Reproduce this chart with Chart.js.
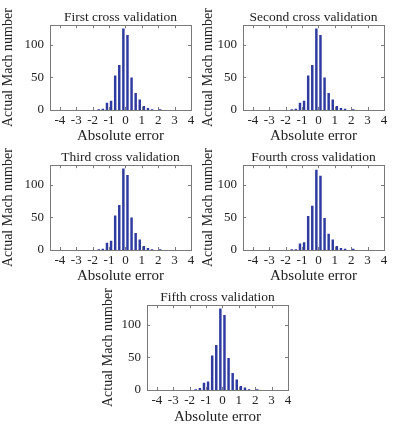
<!DOCTYPE html>
<html>
<head>
<meta charset="utf-8">
<script src="https://cdn.jsdelivr.net/npm/chart.js@4.4.1/dist/chart.umd.min.js"></script>
<style>
  body { margin: 0; background: #fff; overflow: hidden; }
  #wrap { position: relative; width: 399px; height: 424px; }
  .cell { position: absolute; }
</style>
</head>
<body>
<div id="wrap"></div>
<script>
// histogram bin centres (absolute error) and counts per fold
var binCenters = [-1.625, -1.375, -1.125, -0.875, -0.625, -0.375, -0.125, 0.125,
                  0.375, 0.625, 0.875, 1.125, 1.375, 1.625, 1.875, 2.125];
var fold1 = [1, 2, 11, 14, 53, 69, 125, 115, 50, 26, 16, 6, 3, 1, 0, 1];
var fold2 = [1, 2, 11, 14, 53, 69, 125, 115, 50, 26, 16, 6, 3, 2, 0, 1];
var fold3 = [1, 2, 11, 14, 53, 69, 125, 115, 50, 26, 16, 6, 3, 1, 0, 1];
var fold4 = [1, 1, 10, 12, 52, 68, 123, 114, 49, 25, 16, 6, 3, 2, 0, 2];
var fold5 = [1, 3, 11, 13, 53, 69, 125, 115, 49, 26, 16, 6, 4, 1, 0, 1];
var titles = ["First cross validation", "Second cross validation", "Third cross validation",
              "Fourth cross validation", "Fifth cross validation"];
var xTicks = [-4, -3, -2, -1, 0, 1, 2, 3, 4];
var yTicks = [0, 50, 100];

var folds = [fold1, fold2, fold3, fold4, fold5];

// box + inward ticks, matlab style
var boxTicks = {
  id: "boxTicks",
  afterDraw: function (chart) {
    var c = chart.ctx, a = chart.chartArea;
    var xs = chart.scales.x, ys = chart.scales.y;
    c.save();
    c.strokeStyle = "#7a7a7a";
    c.lineWidth = 1;
    c.strokeRect(Math.round(a.left) + 0.5, Math.round(a.top) + 0.5,
                 Math.round(a.right - a.left), Math.round(a.bottom - a.top));
    c.beginPath();
    xTicks.forEach(function (v) {
      var px = Math.round(xs.getPixelForValue(v)) + 0.5;
      c.moveTo(px, a.bottom); c.lineTo(px, a.bottom - 3);
      c.moveTo(px, a.top); c.lineTo(px, a.top + 3);
    });
    yTicks.forEach(function (v) {
      var py = Math.round(ys.getPixelForValue(v)) + 0.5;
      c.moveTo(a.left, py); c.lineTo(a.left + 3, py);
      c.moveTo(a.right, py); c.lineTo(a.right - 3, py);
    });
    c.stroke();
    c.restore();
  }
};

// cell: div box and where the plot area should sit inside it
var cells = [
  { left: 0,   top: 0,   w: 200, h: 145, yw: 50, pr: 9,  xh: 35, xpad: 0 },
  { left: 200, top: 0,   w: 199, h: 145, yw: 43, pr: 15, xh: 35, xpad: 0 },
  { left: 0,   top: 140, w: 200, h: 145, yw: 50, pr: 9,  xh: 35, xpad: 0 },
  { left: 200, top: 140, w: 199, h: 145, yw: 43, pr: 15, xh: 35, xpad: 0 },
  { left: 100, top: 280, w: 199, h: 144, yw: 47, pr: 11, xh: 34, xpad: -2.5 }
];

var serif = "'Liberation Serif', 'Times New Roman', serif";

cells.forEach(function (cell, i) {
  var div = document.createElement("div");
  div.className = "cell";
  div.style.left = cell.left + "px";
  div.style.top = cell.top + "px";
  div.style.width = cell.w + "px";
  div.style.height = cell.h + "px";
  var cv = document.createElement("canvas");
  div.appendChild(cv);
  document.getElementById("wrap").appendChild(div);

  var pts = binCenters.map(function (x, k) { return { x: x, y: folds[i][k] }; });

  new Chart(cv, {
    type: "bar",
    data: {
      datasets: [{
        data: pts,
        backgroundColor: "#2e3a9f",
        borderWidth: 0,
        barPercentage: 0.6,
        categoryPercentage: 1
      }]
    },
    options: {
      responsive: true,
      maintainAspectRatio: false,
      animation: false,
      layout: { padding: { left: 0, right: cell.pr, top: 0, bottom: 0 } },
      plugins: {
        legend: { display: false },
        tooltip: { enabled: false },
        title: {
          display: true,
          text: titles[i],
          fullSize: false,
          color: "#222",
          font: { family: serif, size: 13.5, weight: "normal" },
          padding: { top: 9, bottom: 0 }
        }
      },
      scales: {
        x: {
          type: "linear",
          min: -4.6,
          max: 4,
          offset: false,
          grid: { display: false, drawTicks: false },
          border: { display: false },
          ticks: { stepSize: 1, color: "#222", padding: 3, maxRotation: 0,
                   font: { family: serif, size: 13 } },
          title: { display: true, text: "Absolute error", color: "#222",
                   font: { family: serif, size: 15 },
                   padding: { top: 0, bottom: cell.xpad } },
          afterBuildTicks: function (s) {
            s.ticks = xTicks.map(function (v) { return { value: v }; });
          },
          afterFit: function (s) { s.height = cell.xh; }
        },
        y: {
          min: 0,
          max: 130,
          grid: { display: false, drawTicks: false },
          border: { display: false },
          ticks: { color: "#222", padding: 6, font: { family: serif, size: 13 } },
          title: { display: true, text: "Actual Mach number", color: "#222",
                   font: { family: serif, size: 14 },
                   padding: { top: 0, bottom: 0 } },
          afterBuildTicks: function (s) {
            s.ticks = yTicks.map(function (v) { return { value: v }; });
          },
          afterFit: function (s) { s.width = cell.yw; }
        }
      }
    },
    plugins: [boxTicks]
  });
});
</script>
</body>
</html>
